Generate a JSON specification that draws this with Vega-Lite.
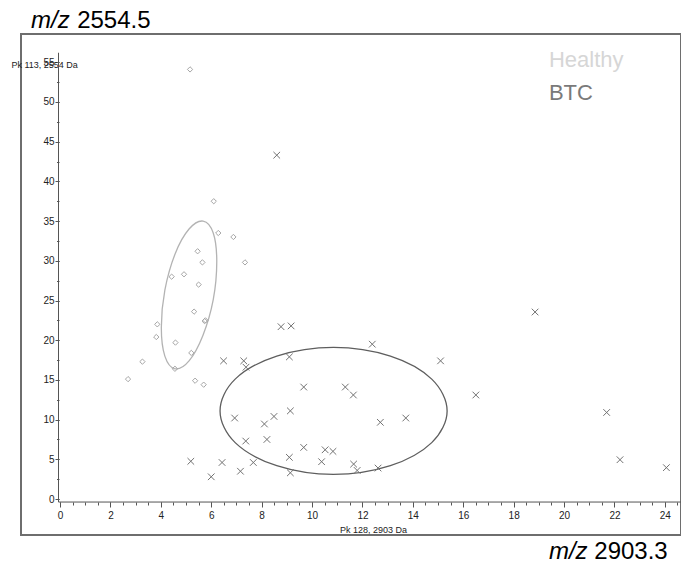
{
  "$schema": "https://vega.github.io/schema/vega-lite/v6.json",
  "width": 660,
  "height": 501,
  "autosize": "none",
  "padding": {"left": 21, "top": 34, "right": 0, "bottom": 33},
  "config": {
    "view": {"stroke": "#6e6e6e", "strokeWidth": 2},
    "font": "Liberation Sans",
    "axis": {"grid": false}
  },
  "datasets": {
    "points": [
      {"group": "Healthy", "u": 5.16, "v": 54.1},
      {"group": "Healthy", "u": 6.1, "v": 37.5},
      {"group": "Healthy", "u": 6.28, "v": 33.5},
      {"group": "Healthy", "u": 6.88, "v": 33.0},
      {"group": "Healthy", "u": 5.46, "v": 31.2},
      {"group": "Healthy", "u": 5.65, "v": 29.8},
      {"group": "Healthy", "u": 7.34, "v": 29.8},
      {"group": "Healthy", "u": 4.43, "v": 28.0},
      {"group": "Healthy", "u": 4.92, "v": 28.3},
      {"group": "Healthy", "u": 5.5, "v": 27.0},
      {"group": "Healthy", "u": 5.32, "v": 23.6},
      {"group": "Healthy", "u": 5.74, "v": 22.4},
      {"group": "Healthy", "u": 5.77, "v": 22.5},
      {"group": "Healthy", "u": 3.86, "v": 22.0},
      {"group": "Healthy", "u": 3.82, "v": 20.4},
      {"group": "Healthy", "u": 4.58, "v": 19.7},
      {"group": "Healthy", "u": 5.21, "v": 18.4},
      {"group": "Healthy", "u": 3.27, "v": 17.3},
      {"group": "Healthy", "u": 4.56, "v": 16.4},
      {"group": "Healthy", "u": 2.7, "v": 15.1},
      {"group": "Healthy", "u": 5.36, "v": 14.9},
      {"group": "Healthy", "u": 5.7, "v": 14.4},
      {"group": "BTC", "u": 8.6, "v": 43.3},
      {"group": "BTC", "u": 6.49, "v": 17.4},
      {"group": "BTC", "u": 7.29, "v": 17.4},
      {"group": "BTC", "u": 7.38, "v": 16.6},
      {"group": "BTC", "u": 8.77, "v": 21.7},
      {"group": "BTC", "u": 9.17, "v": 21.8},
      {"group": "BTC", "u": 12.39, "v": 19.5},
      {"group": "BTC", "u": 9.1, "v": 17.9},
      {"group": "BTC", "u": 15.1, "v": 17.4},
      {"group": "BTC", "u": 9.67, "v": 14.1},
      {"group": "BTC", "u": 11.32, "v": 14.1},
      {"group": "BTC", "u": 11.64, "v": 13.1},
      {"group": "BTC", "u": 16.5, "v": 13.1},
      {"group": "BTC", "u": 6.93, "v": 10.2},
      {"group": "BTC", "u": 8.11, "v": 9.45},
      {"group": "BTC", "u": 8.49, "v": 10.4},
      {"group": "BTC", "u": 9.14, "v": 11.1},
      {"group": "BTC", "u": 12.71, "v": 9.66},
      {"group": "BTC", "u": 13.72, "v": 10.2},
      {"group": "BTC", "u": 7.37, "v": 7.3},
      {"group": "BTC", "u": 8.21, "v": 7.5},
      {"group": "BTC", "u": 9.67, "v": 6.5},
      {"group": "BTC", "u": 10.52, "v": 6.2},
      {"group": "BTC", "u": 10.83, "v": 6.0},
      {"group": "BTC", "u": 9.1, "v": 5.25},
      {"group": "BTC", "u": 10.38, "v": 4.7},
      {"group": "BTC", "u": 6.43, "v": 4.6},
      {"group": "BTC", "u": 7.67, "v": 4.6},
      {"group": "BTC", "u": 11.65, "v": 4.4},
      {"group": "BTC", "u": 11.79, "v": 3.6},
      {"group": "BTC", "u": 12.62, "v": 3.9},
      {"group": "BTC", "u": 7.16, "v": 3.5},
      {"group": "BTC", "u": 9.14, "v": 3.3},
      {"group": "BTC", "u": 6.0, "v": 2.8},
      {"group": "BTC", "u": 5.19, "v": 4.75},
      {"group": "BTC", "u": 18.85, "v": 23.55},
      {"group": "BTC", "u": 21.69, "v": 10.9},
      {"group": "BTC", "u": 22.22, "v": 4.95},
      {"group": "BTC", "u": 24.06, "v": 3.95}
    ],
    "ellipses": [
      {"group": "Healthy", "k": 0, "u": 5.68, "v": 35.0},
      {"group": "Healthy", "k": 1, "u": 6.08, "v": 33.5},
      {"group": "Healthy", "k": 2, "u": 6.22, "v": 29.9},
      {"group": "Healthy", "k": 3, "u": 6.08, "v": 25.1},
      {"group": "Healthy", "k": 4, "u": 5.67, "v": 20.6},
      {"group": "Healthy", "k": 5, "u": 5.12, "v": 17.4},
      {"group": "Healthy", "k": 6, "u": 4.56, "v": 16.4},
      {"group": "Healthy", "k": 7, "u": 4.16, "v": 18.0},
      {"group": "Healthy", "k": 8, "u": 4.02, "v": 21.6},
      {"group": "Healthy", "k": 9, "u": 4.16, "v": 26.3},
      {"group": "Healthy", "k": 10, "u": 4.57, "v": 30.9},
      {"group": "Healthy", "k": 11, "u": 5.12, "v": 34.0},
      {"group": "BTC", "k": 0, "u": 15.36, "v": 11.1},
      {"group": "BTC", "k": 1, "u": 14.75, "v": 15.1},
      {"group": "BTC", "k": 2, "u": 13.11, "v": 18.0},
      {"group": "BTC", "k": 3, "u": 10.85, "v": 19.1},
      {"group": "BTC", "k": 4, "u": 8.6, "v": 18.0},
      {"group": "BTC", "k": 5, "u": 6.95, "v": 15.1},
      {"group": "BTC", "k": 6, "u": 6.35, "v": 11.1},
      {"group": "BTC", "k": 7, "u": 6.95, "v": 7.1},
      {"group": "BTC", "k": 8, "u": 8.6, "v": 4.2},
      {"group": "BTC", "k": 9, "u": 10.85, "v": 3.1},
      {"group": "BTC", "k": 10, "u": 13.11, "v": 4.2},
      {"group": "BTC", "k": 11, "u": 14.75, "v": 7.1}
    ]
  },
  "resolve": {"axis": {"x": "independent", "y": "independent"}},
  "layer": [
    {
      "data": {"name": "ellipses"},
      "mark": {"type": "line", "interpolate": "cardinal-closed", "strokeWidth": 1.3},
      "encoding": {
        "x": {"field": "u", "type": "quantitative", "scale": {"domain": [-1.548, 24.64], "nice": false, "zero": false}, "axis": null},
        "y": {"field": "v", "type": "quantitative", "scale": {"domain": [-4.53, 58.56], "nice": false, "zero": false}, "axis": null},
        "order": {"field": "k", "type": "quantitative"},
        "detail": {"field": "group"},
        "stroke": {"field": "group", "type": "nominal", "scale": {"domain": ["Healthy", "BTC"], "range": ["#b3b3b3", "#5e5e5e"]}, "legend": null}
      }
    },
    {
      "data": {"name": "points"},
      "transform": [{"filter": "datum.group === 'Healthy'"}],
      "mark": {"type": "point", "shape": "diamond", "filled": false, "size": 28, "strokeWidth": 1, "color": "#a6a6a6", "opacity": 1},
      "encoding": {
        "x": {"field": "u", "type": "quantitative", "axis": null},
        "y": {"field": "v", "type": "quantitative", "axis": null}
      }
    },
    {
      "data": {"name": "points"},
      "transform": [{"filter": "datum.group === 'BTC'"}],
      "mark": {"type": "point", "shape": "M-1,-1L1,1M-1,1L1,-1", "filled": false, "size": 44, "strokeWidth": 1, "color": "#727272", "opacity": 1},
      "encoding": {
        "x": {"field": "u", "type": "quantitative", "axis": {
          "orient": "bottom", "offset": -33, "values": [0, 2, 4, 6, 8, 10, 12, 14, 16, 18, 20, 22, 24],
          "domain": false, "tickSize": 5, "tickColor": "#555555", "labelFontSize": 10, "labelColor": "#222222",
          "labelPadding": 3, "labelFlush": false, "title": "Pk 128, 2903 Da", "titleFontSize": 9, "titleFontWeight": "normal",
          "titleColor": "#222222", "titleX": 352, "titleY": 27, "titleBaseline": "middle", "titleAlign": "center"}},
        "y": {"field": "v", "type": "quantitative", "axis": {
          "orient": "left", "offset": -38, "values": [0, 5, 10, 15, 20, 25, 30, 35, 40, 45, 50, 55],
          "domain": false, "tickSize": 4, "tickColor": "#555555", "labelFontSize": 10, "labelColor": "#222222",
          "labelPadding": 1, "labelFlush": false, "title": "Pk 113, 2554 Da", "titleFontSize": 9, "titleFontWeight": "normal",
          "titleColor": "#222222", "titleAngle": 0, "titleX": -48, "titleY": 30, "titleBaseline": "middle", "titleAlign": "left"}}
      }
    },
    {
      "data": {"values": [{"line": "x axis"}]},
      "mark": {"type": "rule", "color": "#555555", "strokeWidth": 1},
      "encoding": {
        "x": {"datum": -0.06, "type": "quantitative", "axis": {
          "orient": "bottom", "offset": -33, "values": [0, 0.5, 1, 1.5, 2, 2.5, 3, 3.5, 4, 4.5, 5, 5.5, 6, 6.5, 7, 7.5, 8, 8.5, 9, 9.5, 10, 10.5, 11, 11.5, 12, 12.5, 13, 13.5, 14, 14.5, 15, 15.5, 16, 16.5, 17, 17.5, 18, 18.5, 19, 19.5, 20, 20.5, 21, 21.5, 22, 22.5, 23, 23.5, 24, 24.5],
          "domain": false, "labels": false, "tickSize": 3, "tickColor": "#555555", "title": null}},
        "x2": {"datum": 24.7},
        "y": {"datum": -0.38, "type": "quantitative", "axis": null}
      }
    },
    {
      "data": {"values": [{"line": "y axis"}]},
      "mark": {"type": "rule", "color": "#555555", "strokeWidth": 1},
      "encoding": {
        "x": {"datum": -0.06, "type": "quantitative", "axis": null},
        "y": {"datum": -0.38, "type": "quantitative", "axis": {
          "orient": "left", "offset": -38, "values": [0, 2.5, 5, 7.5, 10, 12.5, 15, 17.5, 20, 22.5, 25, 27.5, 30, 32.5, 35, 37.5, 40, 42.5, 45, 47.5, 50, 52.5, 55],
          "domain": false, "labels": false, "tickSize": 2.5, "tickColor": "#555555", "title": null}},
        "y2": {"datum": 56.2}
      }
    },
    {
      "data": {"values": [{"t": "m/z"}]},
      "mark": {"type": "text", "font": "Liberation Sans", "fontSize": 24, "fontStyle": "italic", "align": "left", "baseline": "alphabetic", "color": "#000000"},
      "encoding": {
        "text": {"field": "t"},
        "x": {"datum": -1.15, "type": "quantitative", "axis": null},
        "y": {"datum": 59.3, "type": "quantitative", "axis": null}
      }
    },
    {
      "data": {"values": [{"t": "2554.5"}]},
      "mark": {"type": "text", "font": "Liberation Sans", "fontSize": 24, "align": "left", "baseline": "alphabetic", "color": "#000000"},
      "encoding": {
        "text": {"field": "t"},
        "x": {"datum": 0.68, "type": "quantitative", "axis": null},
        "y": {"datum": 59.3, "type": "quantitative", "axis": null}
      }
    },
    {
      "data": {"values": [{"t": "m/z"}]},
      "mark": {"type": "text", "font": "Liberation Sans", "fontSize": 24, "fontStyle": "italic", "align": "left", "baseline": "alphabetic", "color": "#000000"},
      "encoding": {
        "text": {"field": "t"},
        "x": {"datum": 19.4, "type": "quantitative", "axis": null},
        "y": {"datum": -7.56, "type": "quantitative", "axis": null}
      }
    },
    {
      "data": {"values": [{"t": "2903.3"}]},
      "mark": {"type": "text", "font": "Liberation Sans", "fontSize": 24, "align": "left", "baseline": "alphabetic", "color": "#000000"},
      "encoding": {
        "text": {"field": "t"},
        "x": {"datum": 21.2, "type": "quantitative", "axis": null},
        "y": {"datum": -7.56, "type": "quantitative", "axis": null}
      }
    },
    {
      "data": {"values": [{"t": "Healthy"}]},
      "mark": {"type": "text", "font": "Liberation Sans", "fontSize": 22, "align": "left", "baseline": "alphabetic", "color": "#d6d6d6"},
      "encoding": {
        "text": {"field": "t"},
        "x": {"datum": 19.4, "type": "quantitative", "axis": null},
        "y": {"datum": 54.37, "type": "quantitative", "axis": null}
      }
    },
    {
      "data": {"values": [{"t": "BTC"}]},
      "mark": {"type": "text", "font": "Liberation Sans", "fontSize": 22, "align": "left", "baseline": "alphabetic", "color": "#7a7a7a"},
      "encoding": {
        "text": {"field": "t"},
        "x": {"datum": 19.4, "type": "quantitative", "axis": null},
        "y": {"datum": 50.25, "type": "quantitative", "axis": null}
      }
    }
  ]
}
